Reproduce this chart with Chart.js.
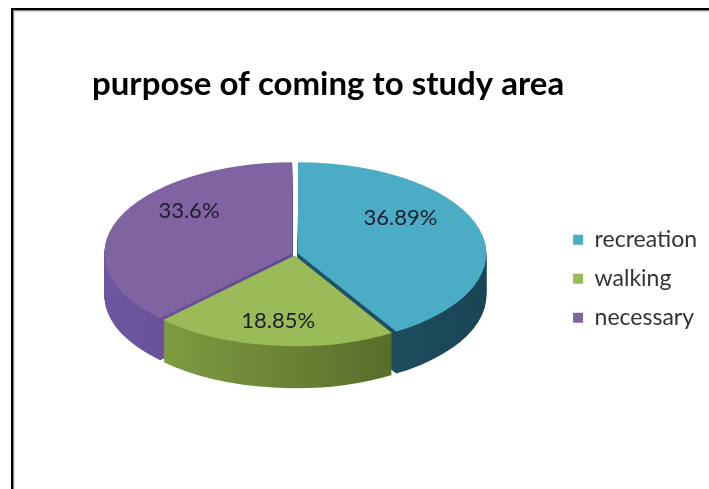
<!DOCTYPE html>
<html>
<head>
<meta charset="utf-8">
<script src="https://cdn.jsdelivr.net/npm/chart.js@4.4.1/dist/chart.umd.min.js"></script>
<style>
  html, body { margin: 0; padding: 0; background: #fff; width: 709px; height: 489px; overflow: hidden; }
  #frame {
    position: absolute; left: 11px; top: 8px; width: 760px; height: 540px;
    border-left: 2px solid #000; border-top: 2px solid #000;
    box-shadow: inset 1px 1px 0 #8a8a8a, inset 2px 2px 0 #dcdcdc;
  }
  #wrap { position: absolute; left: 0; top: 0; width: 709px; height: 489px; }
</style>
</head>
<body>
<div id="frame"></div>
<div id="wrap"><canvas id="chart" width="709" height="489"></canvas></div>
<script>
// Survey answers: why people come to the study area (percent of respondents)
const categories = ['recreation', 'walking', 'necessary'];
const shares = [36.89, 18.85, 33.6];
const chartTitle = 'purpose of coming to study area';

// face colours of each slice and the darker tones of its rim
const topColors = ['#4BACC6', '#9BBB59', '#8064A2'];
const rimColors = [
  ['#25667d', '#1a4555'],
  ['#88a748', '#485b21'],
  ['#6e55a0', '#553f7e']
];

// Draws the pie as a flattened disc with a visible rim underneath it.
const pie3d = {
  id: 'pie3d',
  beforeDatasetsDraw(chart, args, opts) {
    const meta = chart.getDatasetMeta(0);
    const ctx = chart.ctx;
    const first = meta.data[0];
    const cx = first.x, cy = first.y, R = first.outerRadius;
    const { center, squash, depth } = opts;
    const rims = rimColors.map(([a, b]) => {
      const g = ctx.createLinearGradient(cx - R, 0, cx + R, 0);
      g.addColorStop(0, a);
      g.addColorStop(1, b);
      return g;
    });
    // rim: stacked copies of each slice, deepest first
    for (let d = depth; d >= 1; d--) {
      ctx.save();
      ctx.translate(center.x - cx, center.y + d - cy * squash);
      ctx.scale(1, squash);
      meta.data.forEach((arc, i) => {
        const layer = Object.create(arc);
        layer.options = Object.assign({}, arc.options, { backgroundColor: rims[i], borderWidth: 0 });
        Chart.ArcElement.prototype.draw.call(layer, ctx);
      });
      ctx.restore();
    }
    // top face: drawn by the pie controller inside this transform
    ctx.save();
    ctx.translate(center.x - cx, center.y - cy * squash);
    ctx.scale(1, squash);
  },
  afterDatasetsDraw(chart, args, opts) {
    const ctx = chart.ctx;
    ctx.restore();
    const meta = chart.getDatasetMeta(0);
    const first = meta.data[0];
    const cx = first.x, cy = first.y;
    const { center, squash, labelRadius, labelShift } = opts;
    ctx.save();
    ctx.font = '22px Lato';
    ctx.fillStyle = '#1d1d2b';
    ctx.textAlign = 'center';
    ctx.textBaseline = 'middle';
    meta.data.forEach((arc, i) => {
      const mid = (arc.startAngle + arc.endAngle) / 2;
      const r = arc.outerRadius * labelRadius + (arc.options.offset || 0) / 4;
      const px = arc.x + Math.cos(mid) * r;
      const py = arc.y + Math.sin(mid) * r;
      const sx = px + center.x - cx;
      const sy = center.y + (py - cy) * squash;
      const s = labelShift[i] || [0, 0];
      ctx.fillText(shares[i] + '%', sx + s[0], sy + s[1]);
    });
    ctx.restore();
  }
};

new Chart(document.getElementById('chart'), {
  type: 'pie',
  data: {
    labels: categories,
    datasets: [{
      data: shares,
      backgroundColor: topColors,
      borderWidth: 0,
      offset: 12,
      radius: 187,
      clip: false
    }]
  },
  options: {
    responsive: false,
    animation: false,
    events: [],
    layout: { padding: { left: 92, top: 0, right: 2, bottom: 36 } },
    plugins: {
      title: {
        display: true,
        text: chartTitle,
        align: 'start',
        color: '#000',
        font: { family: 'Lato', size: 33, weight: 'bold' },
        padding: { top: 65, bottom: 0 }
      },
      legend: {
        position: 'right',
        fullSize: false,
        align: 'center',
        labels: {
          boxWidth: 10,
          boxHeight: 10,
          padding: 16,
          color: '#333',
          font: { family: 'Lato', size: 23 }
        }
      },
      tooltip: { enabled: false },
      pie3d: {
        center: { x: 295, y: 254 },
        squash: 0.485,
        depth: 42,
        labelRadius: 0.62,
        labelShift: [[-9, -21], [-3, 10], [4, -21]]
      }
    }
  },
  plugins: [pie3d]
});
</script>
</body>
</html>
